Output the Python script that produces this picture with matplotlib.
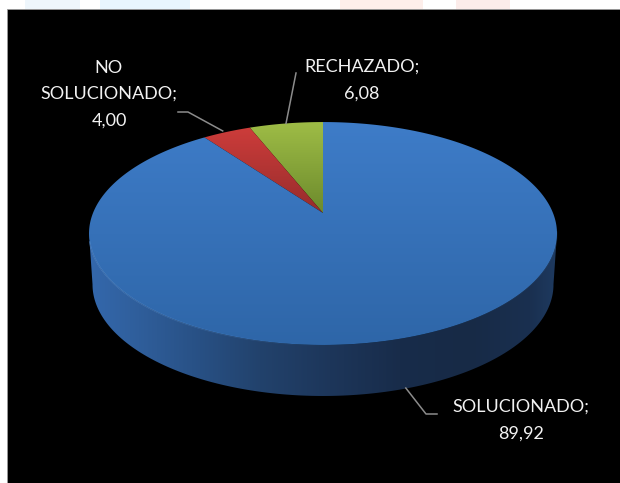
# -*- coding: utf-8 -*-
# torta 3D con prospettiva, disegnata a mano su assi in pixel
import numpy as np
import matplotlib
matplotlib.use("Agg")
import matplotlib.pyplot as plt
from matplotlib.patches import Polygon, Rectangle

categorie = ["RECHAZADO", "NO SOLUCIONADO", "SOLUCIONADO"]
valori = [6.08, 4.00, 89.92]
etichette = ["RECHAZADO;\n6,08", "NO\nSOLUCIONADO;\n4,00", "SOLUCIONADO;\n89,92"]

# geometria della torta
cx, cy = 323.0, 213.0
k = 0.184
cu, cv = 230.0, 107.7
spessore = 51.0


def proietta(theta_deg, dy=0.0, scala=1.0):
    # theta da ore 12 in senso antiorario
    t = np.radians(theta_deg)
    u, v = -np.sin(t), np.cos(t)
    w = 1.0 + k * v
    return cx + scala * cu * u / w, cy + dy - cv * v / w


def gradiente(ax, patch, asse, pos, colori):
    # riempie patch con un gradiente lungo x o y
    xs = np.arange(0, 620)
    ys = np.arange(0, 483)
    col = np.array(colori) / 255.0
    if asse == "x":
        img = np.stack([np.interp(xs, pos, col[:, i]) for i in range(3)], axis=-1)[None, :, :]
    else:
        img = np.stack([np.interp(ys, pos, col[:, i]) for i in range(3)], axis=-1)[:, None, :]
    patch.set_facecolor("none")
    patch.set_edgecolor("none")
    ax.add_patch(patch)
    im = ax.imshow(img, extent=(0, 620, 483, 0), aspect="auto", zorder=patch.get_zorder(),
                   interpolation="bilinear")
    im.set_clip_path(patch)


fig = plt.figure(figsize=(6.2, 4.83), dpi=100, facecolor="white")
ax = fig.add_axes([0, 0, 1, 1])
ax.axis("off")
font = "Lato"

# fascia in alto e sfondo nero
for x0, x1, c in [(25, 80, "#eef6fc"), (100, 190, "#e8f5fd"), (340, 423, "#fdeeea"), (456, 510, "#fcecea")]:
    ax.add_patch(Rectangle((x0, 0), x1 - x0, 10, fc=c, ec="none", zorder=0))
ax.add_patch(Rectangle((6.5, 9), 620, 480, fc="black", ec="#9a9a9a", lw=0.6, zorder=1))

# parete laterale
th = np.linspace(0, 360, 721)
xt, yt = proietta(th)
xb, yb = proietta(th, dy=spessore, scala=0.985)
iL, iR = np.argmin(xt), np.argmax(xt)
jL, jR = np.argmin(xb), np.argmax(xb)
px = np.r_[xt[iL:iR + 1], xb[jL:jR + 1][::-1]]
py = np.r_[yt[iL:iR + 1], yb[jL:jR + 1][::-1]]
lato = Polygon(np.c_[px, py], closed=True, zorder=2)
gradiente(ax, lato, "x",
          [90, 130, 200, 260, 330, 400, 470, 530, 556],
          [(52, 104, 172), (48, 96, 158), (40, 80, 132), (34, 66, 108), (29, 54, 90),
           (24, 44, 74), (23, 42, 70), (26, 48, 80), (30, 58, 96)])

# spicchi sulla faccia superiore
colori_spicchi = [
    ([122, 213], [(158, 188, 70), (108, 138, 44)]),
    ([128, 213], [(204, 60, 58), (150, 44, 44)]),
    ([122, 345], [(62, 124, 200), (46, 102, 168)]),
]
inizio = 0.0
medi = []
for val, (pos, col) in zip(valori, colori_spicchi):
    fine = inizio + val / sum(valori) * 360.0
    a = np.linspace(inizio, fine, 300)
    x, y = proietta(a)
    pts = np.r_[[[cx, cy]], np.c_[x, y]]
    gradiente(ax, Polygon(pts, closed=True, zorder=3), "y", pos, col)
    medi.append((inizio + fine) / 2.0)
    inizio = fine

# bordo chiaro sul davanti
for i in range(iL + 8, iR, 4):
    t = (xt[i] - xt[iL]) / (xt[iR] - xt[iL])
    alpha = max(0.0, 0.5 - 1.0 * t) + 0.1 * max(0.0, t - 0.7) / 0.3
    ax.plot(xt[i:i + 5], yt[i:i + 5], color="#5f97da", lw=1.0, alpha=alpha, zorder=4,
            solid_capstyle="butt")

# linee guida
ancore = [proietta(medi[0]), proietta(medi[1]), proietta(medi[2], dy=spessore)]
ax_leader = "#8c8c8c"
ax.plot([296, ancore[0][0]], [73, ancore[0][1]], color=ax_leader, lw=1.1, zorder=5)
ax.plot([178, 188, ancore[1][0] - 4], [112, 112, ancore[1][1] - 1], color=ax_leader, lw=1.1, zorder=5)
ax.plot([437, 426, ancore[2][0] - 4], [414, 414, ancore[2][1]], color=ax_leader, lw=1.1, zorder=5)

# etichette
pos_testo = [(362, 80), (109, 94), (521, 420)]
for (tx, ty), s in zip(pos_testo, etichette):
    ax.text(tx, ty, s, color="#f2f2f2", fontsize=13.0, family=font, ha="center", va="center",
            multialignment="center", linespacing=1.8, zorder=6)

ax.set_xlim(0, 620)
ax.set_ylim(483, 0)
fig.savefig("out.png", dpi=100, facecolor="white")
